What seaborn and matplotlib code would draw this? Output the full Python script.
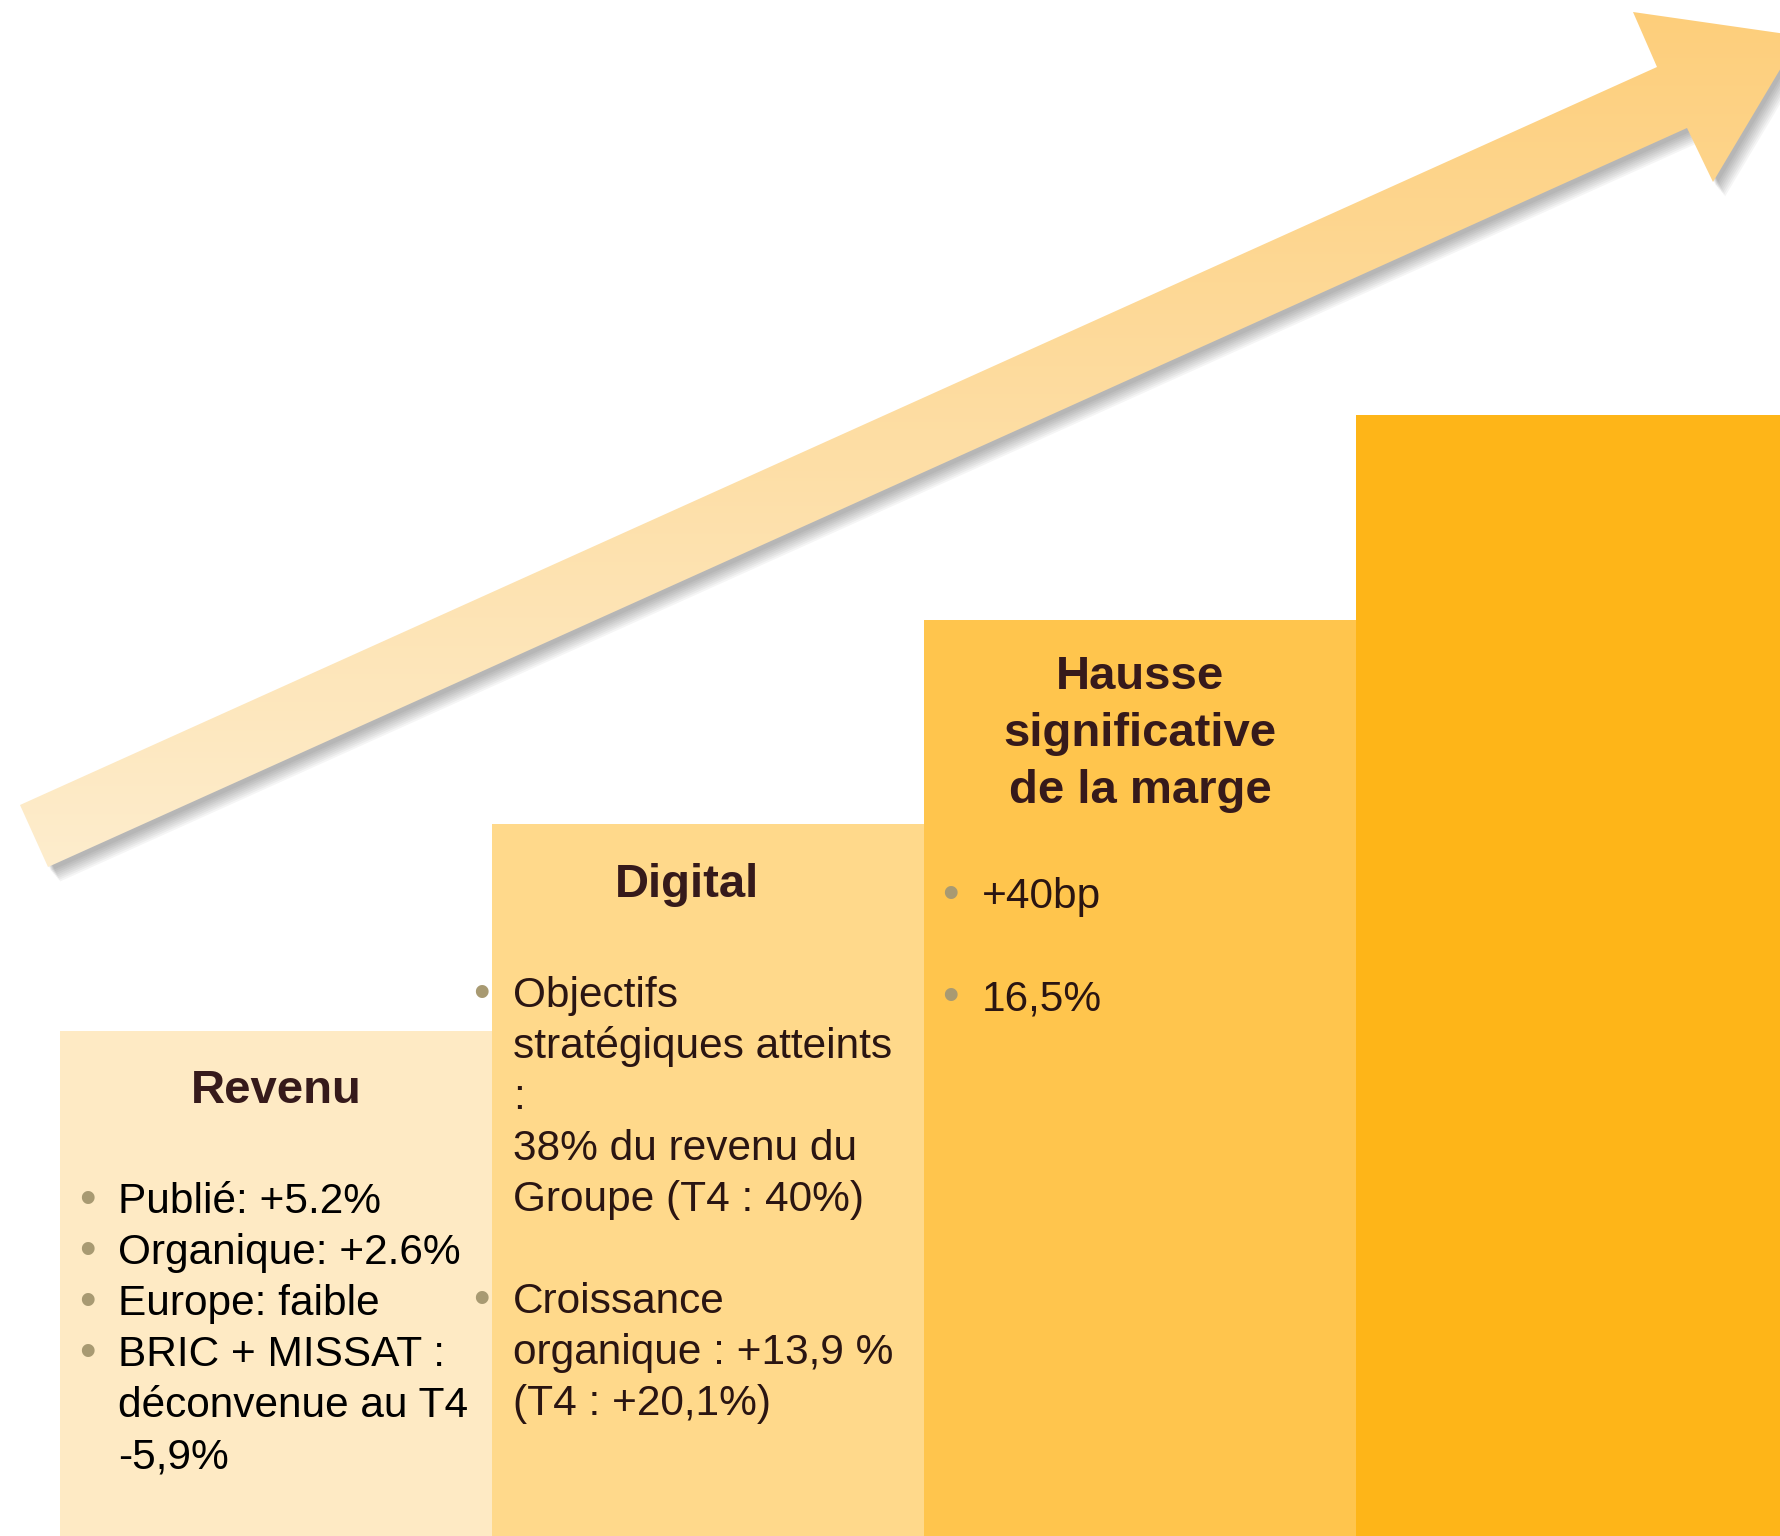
import matplotlib
matplotlib.use("Agg")
import matplotlib.pyplot as plt
import seaborn as sns
import numpy as np
import pandas as pd
from matplotlib.patches import Polygon

# Staircase steps (heights, px above the bottom edge)
steps = ["Revenu", "Digital", "Marge", "Suite"]
step_heights = [505, 712, 916, 1121]
step_colors = ["#FEEAC4", "#FFD98B", "#FFC54D", "#FEB518"]

# Titles on each step
titles = ["Revenu", "Digital", "Hausse\nsignificative\nde la marge"]

# Bullet text (text, has_bullet)
revenu_lines = [("Publié: +5.2%", True), ("Organique: +2.6%", True),
                ("Europe: faible", True), ("BRIC + MISSAT :", True),
                ("déconvenue au T4", False), ("-5,9%", False)]
digital_lines = [("Objectifs", True), ("stratégiques atteints", False),
                 (":", False), ("38% du revenu du", False),
                 ("Groupe (T4 : 40%)", False), ("", False),
                 ("Croissance", True), ("organique : +13,9 %", False),
                 ("(T4 : +20,1%)", False)]
marge_lines = [("+40bp", True), ("", False), ("16,5%", True)]

# Arrow outline (px, y down)
arrow_x = [20, 48, 1687, 1713, 1800, 1633, 1657]
arrow_y = [805, 867, 128, 182, 36, 12, 67]

W, H = 1780, 1536
TITLE_COLOR = "#361A1B"
BODY_COLOR = "#2A1512"
BULLET_COLOR = "#A89A72"

sns.set_theme(style="white")
plt.rcParams["font.family"] = ["Liberation Sans", "DejaVu Sans"]

fig = plt.figure(figsize=(W / 100, H / 100), dpi=100, facecolor="white")

# bars
ax = fig.add_axes([0, 0, 1, 1])
df = pd.DataFrame({"step": steps, "height": step_heights})
sns.barplot(data=df, x="step", y="height", hue="step", palette=step_colors,
            width=1, linewidth=0, saturation=1, legend=False, ax=ax)
bar_w = (1356 - 60) / 3
left = -0.5 - 60 / bar_w
ax.set_xlim(left, left + W / bar_w)
ax.set_ylim(0, H)
ax.axis("off")

# overlay in pixel coordinates for arrow and text
ov = fig.add_axes([0, 0, 1, 1])
ov.set_xlim(0, W)
ov.set_ylim(H, 0)
ov.axis("off")
ov.patch.set_alpha(0)

pts = np.column_stack([arrow_x, arrow_y])

# soft drop shadow
for k in range(8):
    sh = Polygon(pts + np.array([3 + k * 1.3, 4 + k * 1.5]), closed=True,
                 facecolor="black", edgecolor="none", alpha=0.04)
    ov.add_patch(sh)

# gradient-filled arrow
arrow = Polygon(pts, closed=True, facecolor="none", edgecolor="none")
ov.add_patch(arrow)
top_c = np.array([253, 206, 122]) / 255
bot_c = np.array([254, 238, 208]) / 255
t = np.linspace(0, 1, 256)[:, None]
grad = top_c[None, :] * (1 - t) + bot_c[None, :] * t
img = np.repeat(grad[:, None, :], 2, axis=1)
im = ov.imshow(img, extent=(0, 1800, 900, 0), origin="upper", aspect="auto",
               interpolation="bilinear", zorder=2)
im.set_clip_path(arrow)

TITLE_SIZE = 34
BODY_SIZE = 30.5
LINE = 51


def write_lines(lines, x_bullet, x_text, y0, color):
    for i, (txt, bullet) in enumerate(lines):
        y = y0 + i * LINE
        if bullet:
            ov.text(x_bullet, y, "•", fontsize=34, color=BULLET_COLOR,
                    ha="center", va="baseline", zorder=5)
        if txt:
            ov.text(x_text, y, txt, fontsize=BODY_SIZE, color=color,
                    ha="left", va="baseline", zorder=5)


# step 1
ov.text(276, 1103, titles[0], fontsize=TITLE_SIZE, fontweight="bold",
        color=TITLE_COLOR, ha="center", va="baseline", zorder=5)
write_lines(revenu_lines, 87, 118, 1213, "black")

# step 2
ov.text(687, 897, titles[1], fontsize=TITLE_SIZE, fontweight="bold",
        color=TITLE_COLOR, ha="center", va="baseline", zorder=5)
write_lines(digital_lines, 481, 513, 1007, BODY_COLOR)

# step 3
for i, line in enumerate(titles[2].split("\n")):
    ov.text(1140, 689 + i * 57, line, fontsize=TITLE_SIZE, fontweight="bold",
            color=TITLE_COLOR, ha="center", va="baseline", zorder=5)
write_lines(marge_lines, 950, 982, 908, BODY_COLOR)

fig.savefig("out.png", dpi=100, facecolor="white")
